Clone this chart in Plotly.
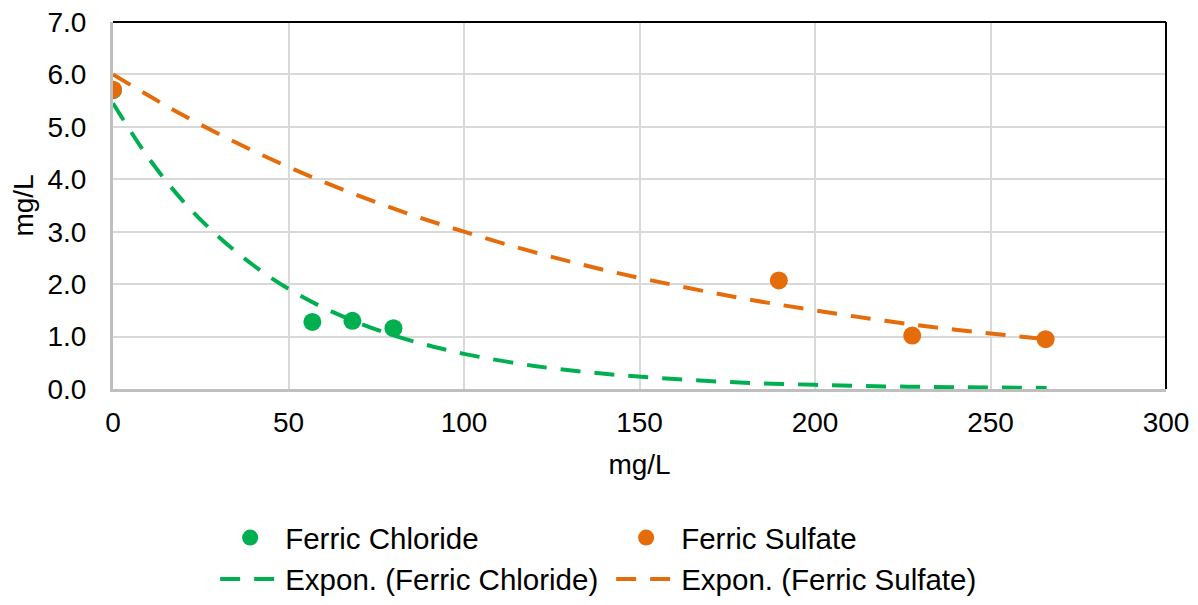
import plotly.graph_objects as go

FONT = "Arial, Liberation Sans, sans-serif"
GREEN = "#00B050"
ORANGE = "#E46C0A"

# ── data ─────────────────────────────────────────────────────────────
chloride_x = [0, 56.8, 68.2, 79.9]
chloride_y = [5.70, 1.28, 1.30, 1.16]

sulfate_x = [0, 189.7, 227.7, 265.7]
sulfate_y = [5.71, 2.07, 1.02, 0.95]

# exponential trendlines, sampled along the curves in the picture
trend_cl_x = [0, 10, 20, 30, 40, 50, 60, 70, 80, 90, 100, 120, 140, 160, 180, 200, 220, 240, 266]
trend_cl_y = [5.45, 4.42, 3.58, 2.91, 2.36, 1.91, 1.55, 1.26, 1.02, 0.83, 0.67, 0.44, 0.29,
              0.19, 0.12, 0.08, 0.05, 0.035, 0.02]

trend_su_x = [0, 20, 40, 60, 80, 100, 120, 140, 160, 180, 200, 220, 240, 266]
trend_su_y = [6.0, 5.22, 4.54, 3.95, 3.44, 3.0, 2.61, 2.27, 1.98, 1.72, 1.50, 1.30, 1.13, 0.95]

x_ticks = [0, 50, 100, 150, 200, 250, 300]
y_ticks = [0, 1, 2, 3, 4, 5, 6, 7]

DASH = "20px,14px"

fig = go.Figure()

fig.add_trace(go.Scatter(
    x=chloride_x, y=chloride_y, mode="markers", name="Ferric Chloride",
    marker=dict(color=GREEN, size=18),
))
fig.add_trace(go.Scatter(
    x=sulfate_x, y=sulfate_y, mode="markers", name="Ferric Sulfate",
    marker=dict(color=ORANGE, size=18),
))
fig.add_trace(go.Scatter(
    x=trend_cl_x, y=trend_cl_y, mode="lines", name="Expon. (Ferric Chloride)",
    line=dict(color=GREEN, width=4, dash=DASH, shape="spline"),
))
fig.add_trace(go.Scatter(
    x=trend_su_x, y=trend_su_y, mode="lines", name="Expon. (Ferric Sulfate)",
    line=dict(color=ORANGE, width=4, dash=DASH, shape="spline"),
))

# black frame on top and right (Excel plot-area border)
fig.add_shape(type="line", xref="x domain", yref="y domain",
              x0=0, x1=1, y0=1, y1=1, line=dict(color="black", width=2))
fig.add_shape(type="line", xref="x domain", yref="y domain",
              x0=1, x1=1, y0=0, y1=1, line=dict(color="black", width=2))

# page body adds 8px, so the figure is 8px smaller than the window
fig.update_layout(
    width=1190, height=597,
    margin=dict(l=105, r=32, t=14, b=216, autoexpand=False),
    paper_bgcolor="white", plot_bgcolor="white",
    font=dict(family=FONT, size=28, color="black"),
    xaxis=dict(
        range=[0, 300], tickvals=x_ticks, ticks="", showgrid=True,
        gridcolor="#D9D9D9", gridwidth=1.5, zeroline=False,
        showline=True, linecolor="#BFBFBF", linewidth=3,
        title=dict(text="mg/L", font=dict(size=28), standoff=18),
        tickfont=dict(size=28), ticklabelstandoff=6, automargin=False,
        ticklabeloverflow="allow",
    ),
    yaxis=dict(
        range=[0, 7], tickvals=y_ticks, tickformat=".1f", ticks="",
        showgrid=True, gridcolor="#D9D9D9", gridwidth=1.5, zeroline=False,
        showline=True, linecolor="#BFBFBF", linewidth=3,
        title=dict(text="mg/L", font=dict(size=28), standoff=9),
        tickfont=dict(size=28), ticklabelstandoff=18, automargin=False,
        ticklabeloverflow="allow",
    ),
    legend=dict(
        orientation="h", x=0.097, xanchor="left", y=-0.335, yanchor="top",
        entrywidth=321, font=dict(size=29.5), itemwidth=60,
    ),
)

fig.write_html("out.html")
